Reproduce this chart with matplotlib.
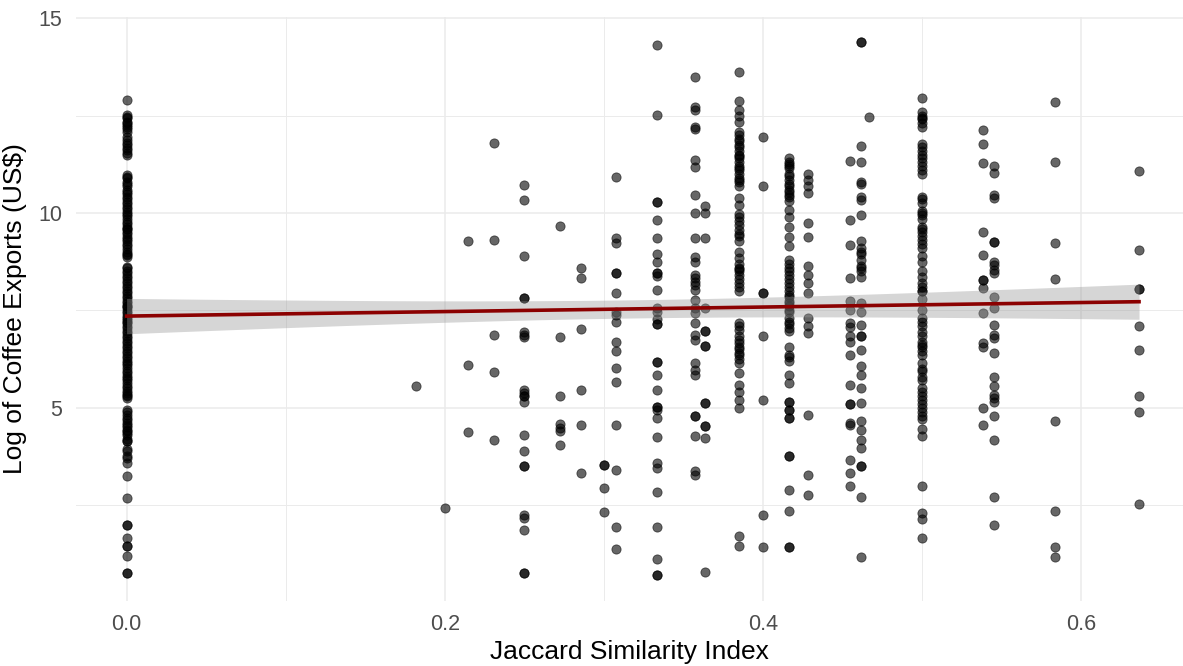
import numpy as np
import matplotlib
matplotlib.use("Agg")
import matplotlib.pyplot as plt

# Jaccard similarity levels (x) and the log coffee exports observed at each level (y)
jaccard_levels = [0.0, 2/11, 0.2, 3/14, 3/13, 0.25, 3/11, 2/7, 0.3, 4/13, 1/3,
                  5/14, 4/11, 5/13, 0.4, 5/12, 3/7, 5/11, 6/13, 7/15, 0.5,
                  7/13, 6/11, 7/12, 7/11]

exports_j000 = [12.91, 12.51, 12.47, 12.43, 12.34, 12.30, 12.25, 12.21, 12.15, 12.09,
                11.95, 11.87, 11.80, 11.74, 11.68, 11.62, 11.55, 11.49,
                10.97, 10.93, 10.90, 10.80, 10.74, 10.68, 10.60, 10.55, 10.49, 10.42,
                10.35, 10.29, 10.22, 10.16, 10.10, 10.03, 9.97, 9.91, 9.84, 9.78,
                9.71, 9.65, 9.60, 9.58, 9.52, 9.45, 9.39, 9.33, 9.27, 9.20, 9.14,
                9.08, 9.01, 8.95, 8.92, 8.88,
                8.62, 8.58, 8.50, 8.45, 8.38, 8.32, 8.26, 8.20, 8.13, 8.07, 8.00,
                7.94, 7.88, 7.81, 7.75, 7.68, 7.62, 7.60, 7.55, 7.49, 7.43, 7.36,
                7.30, 7.24, 7.20, 7.17, 7.10, 7.04, 6.97, 6.91, 6.85, 6.79, 6.72,
                6.66, 6.59, 6.53, 6.45, 6.40, 6.34, 6.27, 6.21, 6.15, 6.10, 6.02,
                5.95, 5.89, 5.82, 5.76, 5.70, 5.63, 5.57, 5.50, 5.44, 5.38, 5.32,
                5.30, 5.25,
                4.95, 4.88, 4.82, 4.75, 4.69, 4.62, 4.56, 4.50, 4.44, 4.40, 4.36,
                4.31, 4.20, 4.14, 4.14, 3.95, 3.88, 3.75, 3.70, 3.58,
                3.24, 2.68, 2.00, 2.00, 1.66, 1.44, 1.44, 1.19, 0.76, 0.76]
exports_j182 = [5.55]
exports_j200 = [2.43]
exports_j214 = [9.28, 6.10, 4.37]
exports_j231 = [11.79, 9.31, 6.88, 5.92, 4.18]
exports_j250 = [10.73, 10.34, 8.90, 7.81, 7.81, 6.94, 6.87, 6.81, 5.46, 5.38, 5.29,
                5.29, 5.15, 4.29, 3.88, 3.50, 3.50, 2.26, 2.17, 1.85, 0.76, 0.76]
exports_j273 = [9.66, 6.82, 5.30, 4.58, 4.49, 4.40, 4.04]
exports_j286 = [8.58, 8.34, 7.01, 5.45, 4.55, 3.33]
exports_j300 = [3.54, 3.54, 2.95, 2.32]
exports_j308 = [10.93, 9.37, 9.23, 8.46, 8.46, 7.95, 7.47, 7.38, 7.20, 6.68, 6.45,
                6.01, 5.65, 4.56, 3.41, 1.94, 1.38]
exports_j333 = [14.31, 12.52, 10.27, 10.27, 9.81, 9.37, 8.95, 8.73, 8.46, 8.46, 8.37,
                8.01, 7.56, 7.47, 7.29, 7.15, 7.15, 6.18, 6.18, 5.84, 5.46, 5.03,
                5.03, 4.94, 4.73, 4.25, 3.59, 3.45, 2.85, 1.93, 1.12, 0.72, 0.72]
exports_j357 = [13.50, 12.73, 12.64, 12.21, 12.15, 11.36, 11.19, 10.46, 9.99, 9.35,
                8.88, 8.75, 8.41, 8.32, 8.24, 8.15, 8.03, 7.77, 7.56, 7.43, 7.17,
                6.87, 6.74, 6.15, 5.97, 5.85, 4.78, 4.78, 4.27, 3.37, 3.28]
exports_j364 = [10.18, 9.99, 9.35, 7.56, 6.96, 6.96, 6.59, 6.59, 5.12, 5.12, 4.52,
                4.52, 4.22, 0.78]
exports_j385 = [13.61, 12.88, 12.64, 12.50, 12.34, 12.08, 12.00, 11.90, 11.85, 11.75,
                11.70, 11.60, 11.50, 11.45, 11.40, 11.30, 11.20, 11.15, 11.10, 11.00,
                10.90, 10.85, 10.80, 10.70, 10.38, 10.20, 9.98, 9.90, 9.80, 9.70,
                9.55, 9.45, 9.40, 9.27, 9.00, 8.85, 8.70, 8.60, 8.55, 8.50, 8.40,
                8.30, 8.20, 8.10, 8.00, 7.17, 7.10, 7.00, 6.84, 6.75, 6.65, 6.55,
                6.50, 6.40, 6.35, 6.25, 6.15, 5.89, 5.59, 5.40, 5.20, 5.00, 1.70,
                1.45]
exports_j400 = [11.94, 10.68, 7.94, 7.94, 6.85, 5.19, 2.26, 1.43]
exports_j417 = [11.40, 11.30, 11.25, 11.20, 11.15, 11.00, 10.95, 10.85, 10.75, 10.70,
                10.60, 10.55, 10.45, 10.40, 10.30, 10.08, 9.90, 9.65, 9.39, 9.14,
                8.80, 8.70, 8.60, 8.50, 8.40, 8.30, 8.20, 8.10, 8.00, 7.90, 7.85,
                7.75, 7.70, 7.60, 7.50, 7.45, 7.30, 7.20, 7.15, 7.05, 6.98, 6.57,
                6.35, 6.30, 6.20, 5.85, 5.63, 5.16, 5.16, 4.95, 4.95, 4.75, 4.75,
                3.75, 3.75, 2.88, 2.34, 1.43, 1.43]
exports_j429 = [11.00, 10.85, 10.70, 10.50, 9.75, 9.39, 8.64, 8.40, 8.20, 7.95, 7.30,
                7.10, 6.93, 4.82, 3.28, 2.77]
exports_j455 = [11.34, 9.82, 9.17, 8.32, 7.73, 7.50, 7.17, 7.08, 6.83, 6.70, 6.36,
                5.59, 5.10, 5.10, 4.61, 4.56, 3.67, 3.32, 2.98]
exports_j462 = [14.38, 14.38, 11.72, 11.32, 10.80, 10.74, 10.40, 10.33, 9.95, 9.27,
                9.10, 9.00, 8.95, 8.80, 8.65, 8.60, 8.50, 8.35, 7.70, 7.47, 7.13,
                6.83, 6.83, 6.49, 6.06, 5.85, 5.50, 5.12, 4.65, 4.42, 4.18, 3.97,
                3.50, 3.50, 2.71, 1.17]
exports_j467 = [12.47]
exports_j500 = [12.94, 12.60, 12.50, 12.45, 12.40, 12.30, 12.20, 11.78, 11.70, 11.60,
                11.50, 11.40, 11.30, 11.20, 11.10, 11.00, 10.42, 10.35, 10.25, 10.05,
                10.00, 9.95, 9.85, 9.65, 9.60, 9.50, 9.40, 9.30, 9.20, 9.10, 8.90,
                8.75, 8.50, 8.35, 8.20, 8.10, 8.00, 8.00, 7.80, 7.50, 7.30, 7.20,
                7.10, 6.95, 6.85, 6.70, 6.60, 6.55, 6.45, 6.35, 6.15, 6.00, 5.95,
                5.80, 5.70, 5.50, 5.40, 5.30, 5.20, 5.10, 5.00, 4.90, 4.80, 4.70,
                4.45, 4.27, 3.00, 2.30, 2.15, 1.66]
exports_j538 = [12.13, 11.76, 11.29, 9.52, 8.91, 8.28, 8.28, 8.07, 7.43, 6.66, 6.57,
                4.99, 4.56]
exports_j545 = [11.20, 11.02, 10.46, 10.38, 9.25, 9.25, 8.75, 8.67, 8.54, 8.45, 7.85,
                7.55, 7.13, 6.87, 6.79, 6.40, 5.78, 5.55, 5.33, 5.25, 5.16, 4.78,
                4.18, 2.70, 1.98]
exports_j583 = [12.85, 11.30, 9.22, 8.30, 4.65, 2.36, 1.43, 1.17]
exports_j636 = [11.08, 9.05, 8.05, 8.05, 7.10, 6.49, 5.29, 4.88, 2.54]

exports_by_level = [exports_j000, exports_j182, exports_j200, exports_j214,
                    exports_j231, exports_j250, exports_j273, exports_j286,
                    exports_j300, exports_j308, exports_j333, exports_j357,
                    exports_j364, exports_j385, exports_j400, exports_j417,
                    exports_j429, exports_j455, exports_j462, exports_j467,
                    exports_j500, exports_j538, exports_j545, exports_j583,
                    exports_j636]

x_ticks = [0.0, 0.2, 0.4, 0.6]
x_tick_labels = ["0.0", "0.2", "0.4", "0.6"]
y_ticks = [5, 10, 15]
y_tick_labels = ["5", "10", "15"]

x_label = "Jaccard Similarity Index"
y_label = "Log of Coffee Exports (US$)"

# Long-form arrays for plotting and fitting
x = np.concatenate([np.full(len(v), lvl) for lvl, v in zip(jaccard_levels, exports_by_level)])
y = np.concatenate([np.asarray(v, dtype=float) for v in exports_by_level])

plt.rcParams["font.family"] = ["Liberation Sans", "DejaVu Sans"]

fig = plt.figure(figsize=(11.83, 6.66), dpi=100)
ax = fig.add_axes([76 / 1183, 1 - 601 / 666, 1 - 76 / 1183, (601 - 17) / 666])

# Grid (minimal theme)
for xv in [0.1, 0.3, 0.5]:
    ax.axvline(xv, color="#EBEBEB", lw=0.7, zorder=0)
for yv in [2.5, 7.5, 12.5]:
    ax.axhline(yv, color="#EBEBEB", lw=0.7, zorder=0)
for xv in x_ticks:
    ax.axvline(xv, color="#EBEBEB", lw=1.1, zorder=0)
for yv in y_ticks:
    ax.axhline(yv, color="#EBEBEB", lw=1.1, zorder=0)

ax.scatter(x, y, s=44, c="black", alpha=0.6, edgecolors="black", linewidths=0.6, zorder=2)

# Linear fit with 95% confidence band
slope, intercept = np.polyfit(x, y, 1)
n = len(x)
resid = y - (intercept + slope * x)
s_err = np.sqrt(np.sum(resid ** 2) / (n - 2))
x_bar = x.mean()
sxx = np.sum((x - x_bar) ** 2)
xs = np.linspace(x.min(), x.max(), 80)
ys = intercept + slope * xs
half = 1.964 * s_err * np.sqrt(1 / n + (xs - x_bar) ** 2 / sxx)
ax.fill_between(xs, ys - half, ys + half, color="#999999", alpha=0.4, lw=0, zorder=3)
ax.plot(xs, ys, color="#8B0000", lw=2.6, zorder=4)

ax.set_xlim(-0.0318, 0.664)
ax.set_ylim(0.04, 15.03)
ax.set_xticks(x_ticks)
ax.set_xticklabels(x_tick_labels)
ax.set_yticks(y_ticks)
ax.set_yticklabels(y_tick_labels)
ax.tick_params(axis="both", length=0, labelsize=15.5, labelcolor="#4D4D4D")
ax.tick_params(axis="x", pad=9)
ax.tick_params(axis="y", pad=10)
for sp in ax.spines.values():
    sp.set_visible(False)

ax.set_xlabel(x_label, fontsize=19, color="black", labelpad=4)
ax.set_ylabel(y_label, fontsize=19, color="black", labelpad=8)

fig.savefig("out.png", dpi=100, facecolor="white")
